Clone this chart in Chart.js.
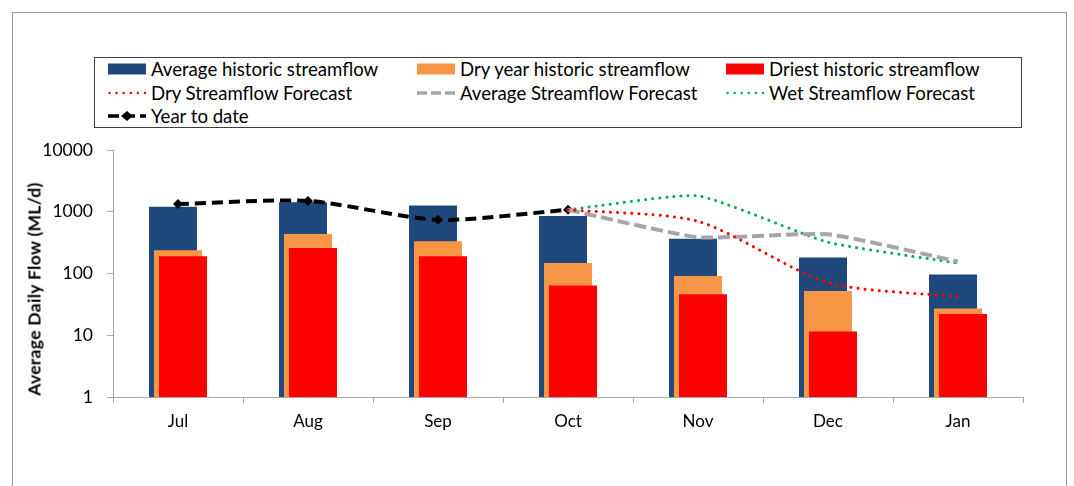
<!DOCTYPE html>
<html>
<head>
<meta charset="utf-8">
<script src="https://cdn.jsdelivr.net/npm/chart.js@4/dist/chart.umd.min.js"></script>
<style>
  html, body { margin:0; padding:0; background:#fff; width:1074px; height:486px; overflow:hidden; }
  #wrap { position:relative; width:1074px; height:486px; font-family: Lato, "Noto Sans", sans-serif; }
  #frame { position:absolute; left:12px; top:12px; width:1055px; height:520px; border:1px solid #9a9a9a; box-sizing:border-box; pointer-events:none; }
  canvas { position:absolute; left:0; top:0; }
  #legend { position:absolute; left:94px; top:57px; width:928px; height:71px; border:1px solid #404040; box-sizing:border-box; background:#fff; }
  .item { position:absolute; display:flex; align-items:center; height:22px; font-size:18.6px; color:#000; white-space:nowrap; }
  .item svg { width:38px; height:14px; margin-right:5px; flex:none; }
  #ytitle { position:absolute; left:33.5px; top:289px; transform: translate(-50%,-50%) rotate(-90deg); font-weight:bold; font-size:17.5px; letter-spacing:0.3px; color:#000; white-space:nowrap; }
</style>
</head>
<body>
<div id="wrap">
  <canvas id="c" width="1074" height="486"></canvas>
  <div id="frame"></div>
  <div id="legend"></div>
  <div id="ytitle">Average Daily Flow (ML/d)</div>
</div>
<script>
const months = ['Jul', 'Aug', 'Sep', 'Oct', 'Nov', 'Dec', 'Jan'];
const avgHistoric = [1210, 1430, 1260, 850, 367, 181, 96];
const dryYearHistoric = [238, 438, 333, 148, 91, 52, 27];
const driestHistoric = [190, 259, 190, 64, 46, 11.5, 22];
const yearToDate = [1330, 1500, 740, 1075, null, null, null];
const dryForecast = [null, null, null, 1075, 700, 71, 42];
const avgForecast = [null, null, null, 1075, 387, 433, 156];
const wetForecast = [null, null, null, 1075, 1810, 320, 147];
const yTicks = [1, 10, 100, 1000, 10000];

const NAVY = '#1f497d', ORANGE = '#f79646', RED = '#ff0000', GREEN = '#00b050', GRAY = '#a6a6a6';
const FONT = 'Lato, "Noto Sans", sans-serif';

// legend (HTML)
const legendItems = [
  {label:'Average historic streamflow', kind:'box', color:NAVY},
  {label:'Dry year historic streamflow', kind:'box', color:ORANGE},
  {label:'Driest historic streamflow', kind:'box', color:RED},
  {label:'Dry Streamflow Forecast', kind:'dot', color:RED},
  {label:'Average Streamflow Forecast', kind:'dash', color:GRAY},
  {label:'Wet Streamflow Forecast', kind:'dot', color:GREEN},
  {label:'Year to date', kind:'ytd', color:'#000'}
];
function swatch(it){
  if (it.kind === 'box') return `<svg viewBox="0 0 38 14"><rect x="0" y="1.5" width="38" height="11" fill="${it.color}"/></svg>`;
  if (it.kind === 'dot') return `<svg viewBox="0 0 38 14"><line x1="1.5" y1="7" x2="37" y2="7" stroke="${it.color}" stroke-width="2.6" stroke-linecap="round" stroke-dasharray="0 7.1"/></svg>`;
  if (it.kind === 'dash') return `<svg viewBox="0 0 38 14"><line x1="0" y1="7" x2="38" y2="7" stroke="${it.color}" stroke-width="3.5" stroke-dasharray="10 4"/></svg>`;
  return `<svg viewBox="0 0 38 14"><line x1="0" y1="7" x2="38" y2="7" stroke="#000" stroke-width="3.5" stroke-dasharray="11 5"/><polygon points="19,2 25,7 19,12 13,7" fill="#000"/></svg>`;
}
const lg = document.getElementById('legend');
const colX = [13, 322, 631];
const rowY = [0, 24, 47];
legendItems.forEach((it, i) => {
  const d = document.createElement('div');
  d.className = 'item';
  d.style.left = colX[i % 3] + 'px';
  d.style.top = rowY[Math.floor(i / 3)] + 'px';
  d.innerHTML = swatch(it) + '<span>' + it.label + '</span>';
  lg.appendChild(d);
});

// draw bars in a fixed order (navy, orange, red) before the lines
const barOrderPlugin = {
  id: 'barOrder',
  beforeDatasetsDraw(chart) {
    [0, 1, 2].forEach(i => {
      const meta = chart.getDatasetMeta(i);
      if (meta.visible) meta.controller.draw();
    });
  },
  beforeDatasetDraw(chart, args) {
    if (args.meta.type === 'bar') return false;
  }
};

const lineBase = { type:'line', fill:false, pointRadius:0, pointHoverRadius:0, tension:0.15, spanGaps:false };

new Chart(document.getElementById('c'), {
  type: 'bar',
  data: {
    labels: months,
    datasets: [
      { label:'Average historic streamflow', data:avgHistoric, backgroundColor:NAVY },
      { label:'Dry year historic streamflow', data:dryYearHistoric, backgroundColor:ORANGE },
      { label:'Driest historic streamflow', data:driestHistoric, backgroundColor:RED },
      Object.assign({}, lineBase, { label:'Dry Streamflow Forecast', data:dryForecast, borderColor:RED, borderWidth:3, borderDash:[0.1, 7], borderCapStyle:'round', tension:0.25 }),
      Object.assign({}, lineBase, { label:'Average Streamflow Forecast', data:avgForecast, borderColor:GRAY, borderWidth:4, borderDash:[12, 5] }),
      Object.assign({}, lineBase, { label:'Wet Streamflow Forecast', data:wetForecast, borderColor:GREEN, borderWidth:3, borderDash:[0.1, 7], borderCapStyle:'round' }),
      Object.assign({}, lineBase, { label:'Year to date', data:yearToDate, borderColor:'#000', borderWidth:4, borderDash:[11, 6], pointStyle:'rectRot', pointRadius:5, backgroundColor:'#000', pointBorderWidth:0, tension:0.25 })
    ]
  },
  options: {
    responsive:false,
    animation:false,
    events:[],
    datasets: { bar: { categoryPercentage: 0.1154, barPercentage: 9.6 } },
    layout: { padding: { left:0, top:150, right:51, bottom:49 } },
    plugins: { legend:{ display:false }, tooltip:{ enabled:false }, title:{ display:false } },
    scales: {
      x: {
        type:'category',
        grid: { offset:true, drawOnChartArea:false, drawTicks:true, tickLength:6, color:'#a6a6a6' },
        border: { display:true, color:'#a6a6a6', width:1 },
        ticks: { font:{ family:FONT, size:17 }, color:'#000', padding:8, maxRotation:0 },
        afterFit: s => { s.height = 40; }
      },
      y: {
        type:'logarithmic',
        min:1, max:10000,
        grid: { drawOnChartArea:false, drawTicks:true, tickLength:6, color:'#a6a6a6' },
        border: { display:true, color:'#a6a6a6', width:1 },
        ticks: { font:{ family:FONT, size:17.5 }, color:'#000', padding:14, callback: v => String(v) },
        afterBuildTicks: s => { s.ticks = yTicks.map(v => ({ value:v })); },
        afterFit: s => { s.width = 113; }
      }
    }
  },
  plugins: [barOrderPlugin]
});
</script>
</body>
</html>
